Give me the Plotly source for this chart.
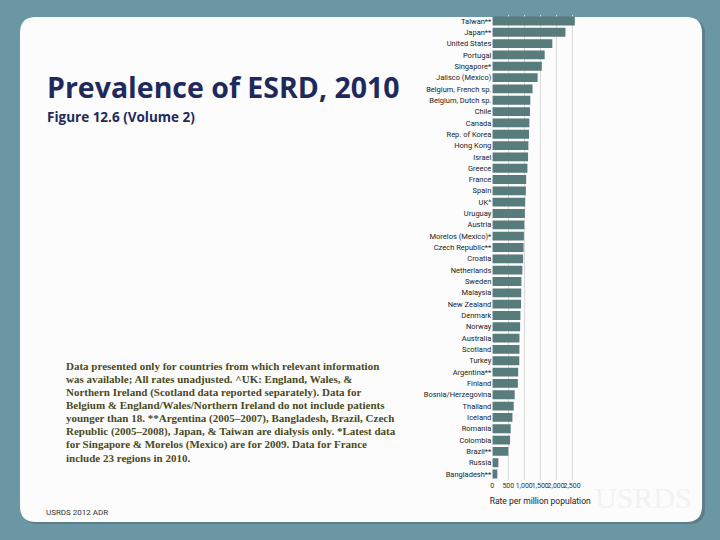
import plotly.graph_objects as go

countries = ["Taiwan**", "Japan**", "United States", "Portugal", "Singapore*", "Jalisco (Mexico)",
             "Belgium, French sp.", "Belgium, Dutch sp.", "Chile", "Canada", "Rep. of Korea",
             "Hong Kong", "Israel", "Greece", "France", "Spain", "UK^", "Uruguay", "Austria",
             "Morelos (Mexico)*", "Czech Republic**", "Croatia", "Netherlands", "Sweden", "Malaysia",
             "New Zealand", "Denmark", "Norway", "Australia", "Scotland", "Turkey", "Argentina**",
             "Finland", "Bosnia/Herzegovina", "Thailand", "Iceland", "Romania", "Colombia",
             "Brazil**", "Russia", "Bangladesh**"]
rates = [2584, 2290, 1880, 1640, 1550, 1420, 1260, 1190, 1180, 1160, 1150,
         1130, 1120, 1100, 1060, 1050, 1030, 1020, 1000, 990, 980, 965, 940, 910, 905,
         900, 880, 870, 850, 850, 845, 810, 800, 700, 670, 630, 575, 555, 500, 190, 156]
tick_vals = [0, 500, 1000, 1500, 2000, 2500]
tick_text = ["0", "500", "1,000", "1,500", "2,000", "2,500"]

title = "Prevalence of ESRD, 2010"
subtitle = "Figure 12.6 (Volume 2)"
note_lines = [
    "Data presented only for countries from which relevant information",
    "was available; All rates unadjusted. ^UK: England, Wales, &",
    "Northern Ireland (Scotland data reported separately). Data for",
    "Belgium & England/Wales/Northern Ireland do not include patients",
    "younger than 18. **Argentina (2005\u20132007), Bangladesh, Brazil, Czech",
    "Republic (2005\u20132008), Japan, & Taiwan are dialysis only. *Latest data",
    "for Singapore & Morelos (Mexico) are for 2009. Data for France",
    "include 23 regions in 2010.",
]
W, H = 720, 540

def px(x):
    return x / W

def py(y):
    return 1 - y / H

def rounded(x0, y0, x1, y1, r):
    p = f"M {px(x0 + r)},{py(y0)} L {px(x1 - r)},{py(y0)} Q {px(x1)},{py(y0)} {px(x1)},{py(y0 + r)} "
    p += f"L {px(x1)},{py(y1 - r)} Q {px(x1)},{py(y1)} {px(x1 - r)},{py(y1)} "
    p += f"L {px(x0 + r)},{py(y1)} Q {px(x0)},{py(y1)} {px(x0)},{py(y1 - r)} "
    p += f"L {px(x0)},{py(y0 + r)} Q {px(x0)},{py(y0)} {px(x0 + r)},{py(y0)} Z"
    return p

fig = go.Figure(go.Bar(
    x=rates, y=countries, orientation="h",
    marker=dict(color="#587b7c", line=dict(width=0)),
    width=0.78,
))

fig.update_layout(
    width=W, height=H,
    margin=dict(l=0, r=0, t=0, b=0),
    paper_bgcolor="#6b96a3",
    plot_bgcolor="rgba(0,0,0,0)",
    showlegend=False,
    xaxis=dict(domain=[491.7 / W, 587.7 / W], range=[0, 3000], tickmode="array",
               tickvals=tick_vals, ticktext=tick_text, tickangle=0,
               showgrid=True, gridcolor="#d9d9d9", gridwidth=1, zeroline=False,
               showline=False, ticks="", tickfont=dict(family="Roboto", size=7, color="#333333"),
               title=dict(text="Rate per million population", standoff=9,
                          font=dict(family="Roboto", size=8.5, color="#222222"))),
    yaxis=dict(domain=[py(479.7), py(15.3)], autorange="reversed", type="category",
               showgrid=False, ticks="", showline=False,
               tickfont=dict(family="Roboto", size=7.5, color="#222222")),
    shapes=[
        dict(type="path", xref="paper", yref="paper", path=rounded(20, 19, 705, 524, 16),
             fillcolor="rgba(60,80,90,0.35)", line=dict(width=0), layer="below"),
        dict(type="path", xref="paper", yref="paper", path=rounded(18, 17, 702, 522, 16),
             fillcolor="#fcfcfd", line=dict(width=0), layer="below"),
    ],
)

annotations = [
    dict(text=f"<b>{title}</b>", x=px(43), y=py(108), xanchor="left", yanchor="bottom",
         font=dict(family="Open Sans", size=28.5, color="#1e2a5c")),
    dict(text=f"<b>{subtitle}</b>", x=px(43), y=py(106), xanchor="left", yanchor="top",
         font=dict(family="Open Sans", size=13.5, color="#1e2a5c")),
    dict(text="USRDS 2012 ADR", x=px(42), y=py(512), xanchor="left", yanchor="middle",
         font=dict(family="Roboto", size=8, color="#333333")),
    dict(text="USRDS", x=px(643), y=py(497), xanchor="center", yanchor="middle",
         font=dict(family="Liberation Serif", size=30, color="#f2f2f2")),
]
for i, line in enumerate(note_lines):
    annotations.append(dict(text=f"<b>{line}</b>", x=px(62), y=py(366 + 13.15 * i),
                            xanchor="left", yanchor="middle",
                            font=dict(family="Liberation Serif", size=11, color="#4a4a1c")))
for a in annotations:
    a.update(xref="paper", yref="paper", showarrow=False)
fig.update_layout(annotations=annotations)

fig.write_html("out.html")
